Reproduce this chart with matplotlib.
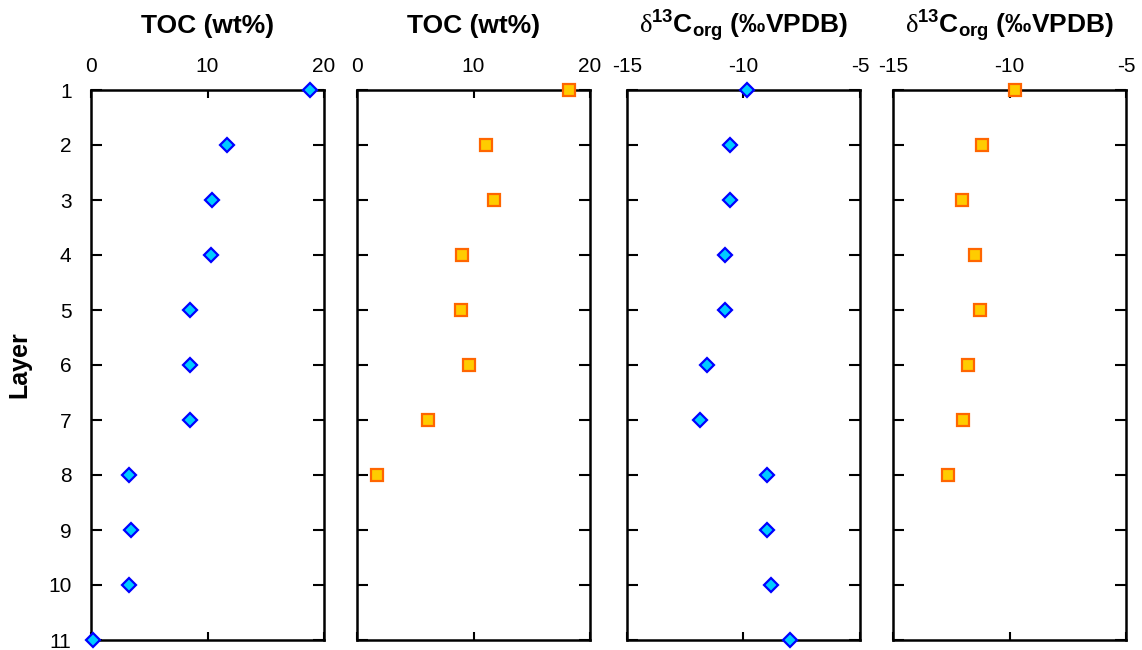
import numpy as np
import matplotlib.pyplot as plt

plt.rcParams['font.family'] = ['Liberation Sans', 'DejaVu Sans']
plt.rcParams['mathtext.fontset'] = 'custom'
plt.rcParams['mathtext.rm'] = 'Liberation Serif'
plt.rcParams['mathtext.bf'] = 'Liberation Sans:bold'
plt.rcParams['mathtext.it'] = 'Liberation Sans:bold'

layers_a = np.arange(1, 12)
layers_b = np.arange(1, 9)

toc_a = [18.8, 11.7, 10.4, 10.3, 8.5, 8.5, 8.5, 3.3, 3.4, 3.3, 0.2]
toc_b = [18.2, 11.1, 11.8, 9.0, 8.9, 9.6, 6.1, 1.7]
d13c_a = [-9.87, -10.6, -10.56, -10.8, -10.8, -11.55, -11.85, -9.0, -9.0, -8.84, -8.0]
d13c_b = [-9.78, -11.16, -12.03, -11.5, -11.25, -11.8, -11.98, -12.63]

toc_title = 'TOC (wt%)'
d13c_title = r'$\mathrm{\delta}^{\mathbf{13}}\mathbf{C}_{\mathbf{org}}$ (‰VPDB)'

fig = plt.figure(figsize=(11.42, 6.5), dpi=100)
W, H = 1142, 650
lefts = [91, 357, 627, 893]
width = 233
bottom, top = 640, 90

panels = [
    (toc_a, layers_a, (0, 20), [0, 10, 20], toc_title, 'D'),
    (toc_b, layers_b, (0, 20), [0, 10, 20], toc_title, 's'),
    (d13c_a, layers_a, (-15, -5), [-15, -10, -5], d13c_title, 'D'),
    (d13c_b, layers_b, (-15, -5), [-15, -10, -5], d13c_title, 's'),
]

for i, (x, y, xl, xt, title, mk) in enumerate(panels):
    ax = fig.add_axes([lefts[i] / W, 1 - bottom / H, width / W, (bottom - top) / H])
    if mk == 'D':
        ax.plot(x, y, 'D', ms=7.5, mfc='#00ccff', mec='#0000ff', mew=1.6,
                clip_on=False, zorder=5)
    else:
        ax.plot(x, y, 's', ms=9, mfc='#ffcc00', mec='#ff6600', mew=1.6,
                clip_on=False, zorder=5)
    ax.set_xlim(xl)
    ax.set_ylim(11, 1)
    ax.set_xticks(xt)
    ax.set_xticklabels([str(v) for v in xt])
    ax.set_yticks(range(1, 12))
    ax.xaxis.tick_top()
    ax.tick_params(axis='both', direction='in', width=1.5,
                   labelsize=15, top=True, bottom=True, left=True, right=True)
    ax.tick_params(axis='x', length=6, pad=10)
    ax.tick_params(axis='y', length=8, pad=14)
    for s in ax.spines.values():
        s.set_linewidth(1.8)
    if i == 0:
        ax.set_ylabel('Layer', fontsize=18, fontweight='bold', labelpad=12)
    else:
        ax.set_yticklabels([])
    ax.set_title(title, fontsize=19, fontweight='bold', pad=41)

fig.savefig('out.png', dpi=100)
